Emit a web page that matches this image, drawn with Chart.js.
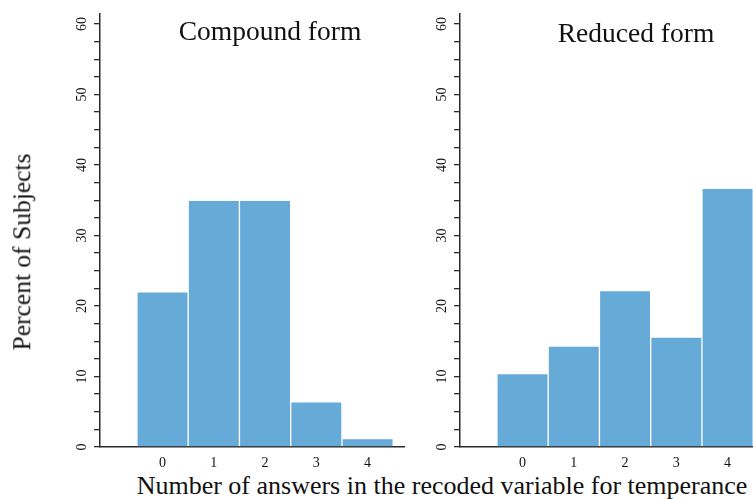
<!DOCTYPE html>
<html>
<head>
<meta charset="utf-8">
<script src="https://cdn.jsdelivr.net/npm/chart.js@4"></script>
<style>
  body { margin: 0; width: 753px; height: 499px; overflow: hidden; background: #fff; position: relative; font-family: "Liberation Serif", serif; color: #111; }
  canvas { position: absolute; top: 0; }
  #left-chart { left: 0; }
  #right-chart { left: 360px; }
  .label { position: absolute; white-space: nowrap; line-height: 1; }
  #title-left { left: 270px; top: 17px; font-size: 27.5px; transform: translateX(-50%); }
  #title-right { left: 636px; top: 19px; font-size: 27.5px; transform: translateX(-50%); }
  #y-title { left: 22px; top: 252px; font-size: 25.5px; transform: translate(-50%, -50%) rotate(-90deg); }
  #x-title { left: 442px; top: 473px; font-size: 26px; transform: translateX(-50%); }
</style>
</head>
<body>
<canvas id="left-chart" width="405" height="470"></canvas>
<canvas id="right-chart" width="405" height="470"></canvas>
<div class="label" id="title-left">Compound form</div>
<div class="label" id="title-right">Reduced form</div>
<div class="label" id="y-title">Percent of Subjects</div>
<div class="label" id="x-title">Number of answers in the recoded variable for temperance</div>
<script>
// answers 0..4, percent of subjects
const categories = [0, 1, 2, 3, 4];
const compoundValues = [22, 35, 35, 6.4, 1.2];
const reducedValues = [10.4, 14.3, 22.2, 15.6, 36.7];

const yTickValues = [0, 2.5, 5, 7.5, 10, 12.5, 15, 17.5, 20, 22.5, 25, 27.5, 30,
    32.5, 35, 37.5, 40, 42.5, 45, 47.5, 50, 52.5, 55, 57.5, 60];
const yTickLabels = [0, 10, 20, 30, 40, 50, 60];

const BAR_COLOR = '#66aad7';
const AXIS_COLOR = '#2a2a2a';
const TICK_FONT = { family: 'Liberation Serif', size: 14 };

function makeChart(canvasId, values) {
    const ctx = document.getElementById(canvasId).getContext('2d');
    return new Chart(ctx, {
        type: 'bar',
        data: {
            datasets: [{
                data: categories.map((c, i) => ({ x: c, y: values[i] })),
                backgroundColor: BAR_COLOR,
                borderColor: '#ffffff',
                borderWidth: 1,
                barPercentage: 1,
                categoryPercentage: 1
            }]
        },
        options: {
            responsive: false,
            animation: false,
            layout: { padding: 0 },
            plugins: {
                legend: { display: false },
                tooltip: { enabled: false }
            },
            scales: {
                x: {
                    type: 'linear',
                    offset: false,
                    min: -1.22,
                    max: 4.73,
                    afterBuildTicks: (scale) => {
                        scale.ticks = categories.map(v => ({ value: v }));
                    },
                    afterFit: (scale) => { scale.height = 23; },
                    grid: { display: true, offset: false, drawOnChartArea: false, drawTicks: false },
                    border: { display: true, color: AXIS_COLOR, width: 1.5 },
                    ticks: {
                        color: '#111',
                        font: TICK_FONT,
                        padding: 8,
                        maxRotation: 0,
                        minRotation: 0
                    }
                },
                y: {
                    type: 'linear',
                    min: 0,
                    max: 61.5,
                    afterBuildTicks: (scale) => {
                        scale.ticks = yTickValues.map(v => ({ value: v }));
                    },
                    afterFit: (scale) => { scale.width = 100; },
                    grid: {
                        display: true,
                        drawOnChartArea: false,
                        drawTicks: true,
                        tickLength: 6,
                        color: AXIS_COLOR,
                        lineWidth: 1.3
                    },
                    border: { display: true, color: AXIS_COLOR, width: 1.5 },
                    ticks: {
                        color: '#111',
                        font: TICK_FONT,
                        padding: 5,
                        crossAlign: 'center',
                        minRotation: 90,
                        maxRotation: 90,
                        callback: (v) => yTickLabels.includes(v) ? String(v) : ''
                    }
                }
            }
        }
    });
}

makeChart('left-chart', compoundValues);
makeChart('right-chart', reducedValues);
</script>
</body>
</html>
